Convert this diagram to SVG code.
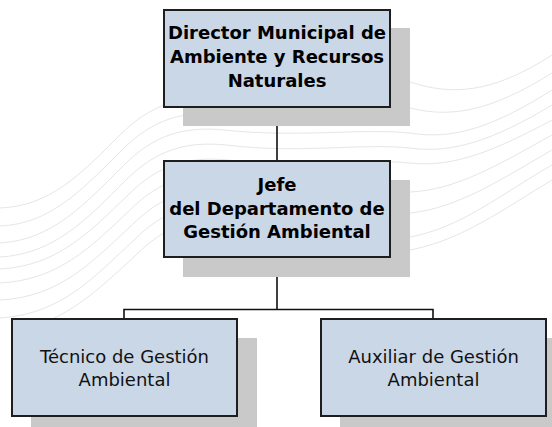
<svg xmlns="http://www.w3.org/2000/svg" width="552" height="427" viewBox="0 0 552 427">
<style>
.bg{fill:none;stroke:#e6e6e6;stroke-width:1}
.shadow{fill:#c9c9c9}
.box{fill:#cad7e6;stroke:#1e1e1e;stroke-width:2}
.b{font-family:"DejaVu Sans",Verdana,sans-serif;font-weight:bold;font-size:18px;fill:#000;text-anchor:middle}
.r{font-family:"DejaVu Sans",Verdana,sans-serif;font-size:18px;fill:#111;text-anchor:middle}
.conn{fill:none;stroke:#111;stroke-width:1.6}
</style>
<rect width="552" height="427" fill="#fff"/>
<g id="background">
<path class="bg" d="M0,208 C50,206 80,175 120,135 C150,105 180,95 220,100 C300,105 360,80 410,82 C450,95 490,95 552,55"/>
<path class="bg" d="M0,226 C50,224 82,190 122,150 C152,120 182,110 222,115 C300,122 360,104 410,108 C450,118 490,112 552,73"/>
<path class="bg" d="M0,243 C52,240 84,205 124,165 C154,135 184,126 224,130 C300,138 360,128 410,133 C452,140 492,128 552,90"/>
<path class="bg" d="M0,257 C54,254 86,220 126,180 C156,150 186,141 226,145 C300,154 360,143 410,148 C452,154 494,140 552,105"/>
<path class="bg" d="M0,269 C56,266 88,234 128,195 C158,165 188,156 228,160 C300,170 360,158 410,163 C454,168 496,150 552,120"/>
<path class="bg" d="M0,283 C58,280 90,248 130,210 C160,180 190,171 230,175 C300,185 360,186 410,192 C456,190 498,165 552,135"/>
<path class="bg" d="M0,300 C60,297 92,262 132,225 C162,195 192,186 232,190 C300,200 360,208 410,213 C458,208 500,180 552,150"/>
<path class="bg" d="M0,318 C62,314 94,277 134,240 C164,210 194,201 234,205 C300,215 360,232 410,237 C460,228 500,195 552,165"/>
<path class="bg" d="M20,330 C66,320 96,292 136,255 C166,225 196,216 236,220 C300,230 360,246 410,250 C462,240 502,210 552,180"/>
</g>
<g id="connectors">
<path class="conn" d="M277,107 V161"/>
<path class="conn" d="M277,257 V309.5 M124,319 V309.5 H433 V319"/>
</g>
<g id="director">
<rect class="shadow" x="183" y="28" width="227" height="98"/>
<rect class="box" x="164" y="10" width="226" height="97"/>
<text class="b" x="277" y="39">Director Municipal de</text>
<text class="b" x="277" y="63">Ambiente y Recursos</text>
<text class="b" x="277" y="87">Naturales</text>
</g>
<g id="jefe">
<rect class="shadow" x="183" y="180" width="227" height="97"/>
<rect class="box" x="164" y="161" width="226" height="96"/>
<text class="b" x="277" y="191">Jefe</text>
<text class="b" x="277" y="214.5">del Departamento de</text>
<text class="b" x="277" y="238">Gestión Ambiental</text>
</g>
<g id="tecnico">
<rect class="shadow" x="31" y="338" width="226" height="98"/>
<rect class="box" x="12" y="319" width="225" height="97"/>
<text class="r" x="124.5" y="363">Técnico de Gestión</text>
<text class="r" x="124.5" y="386">Ambiental</text>
</g>
<g id="auxiliar">
<rect class="shadow" x="340" y="338" width="226" height="98"/>
<rect class="box" x="321" y="319" width="225" height="97"/>
<text class="r" x="433.5" y="363">Auxiliar de Gestión</text>
<text class="r" x="433.5" y="386">Ambiental</text>
</g>
</svg>
